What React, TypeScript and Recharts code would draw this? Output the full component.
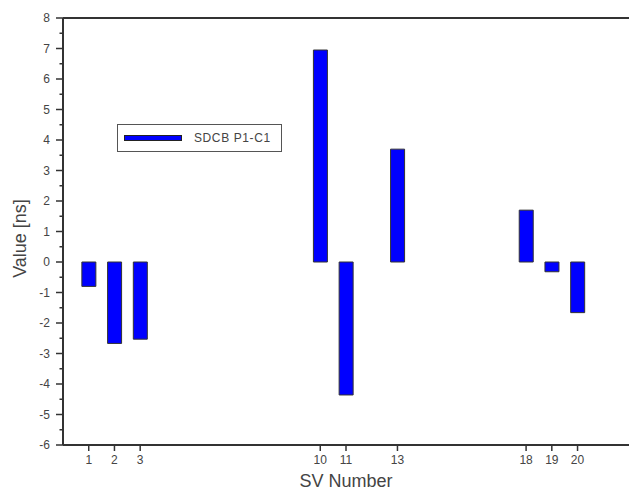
import { Bar, BarChart, Legend, ReferenceLine, XAxis, YAxis } from "recharts";

const SV_NUMBERS = [1, 2, 3, 10, 11, 13, 18, 19, 20];
const VALUES = [-0.8, -2.67, -2.53, 6.95, -4.36, 3.7, 1.7, -0.32, -1.66];
const SERIES_NAME = "SDCB P1-C1";
const X_TICKS = [1, 2, 3, 10, 11, 13, 18, 19, 20];
const Y_TICKS = Array.from({ length: 29 }, (_, i) => -6 + i * 0.5);

const data = SV_NUMBERS.map((sv, i) => ({ sv, value: VALUES[i] }));

const FONT = "'Liberation Sans', Arial, sans-serif";
const AXIS = "#333";
const TEXT = "#444";

function YTick(props: any) {
  const { x, y, payload } = props;
  const v = payload.value as number;
  const major = Number.isInteger(v);
  return (
    <g>
      <line x1={x - (major ? 7 : 3.5)} x2={x} y1={y} y2={y} stroke={AXIS} strokeWidth={1.5} />
      {major && (
        <text x={x - 13} y={y} dy="0.35em" textAnchor="end" fontSize={12} fill={TEXT} fontFamily={FONT}>
          {v}
        </text>
      )}
    </g>
  );
}

function YLabel(props: any) {
  const { viewBox } = props;
  const cy = viewBox.y + viewBox.height / 2 + 7;
  return (
    <text x={20} y={cy} transform={`rotate(-90 20 ${cy})`} textAnchor="middle" dy="0.35em" fontSize={18} fill={TEXT} fontFamily={FONT}>
      Value [ns]
    </text>
  );
}

function LegendBox() {
  return (
    <div
      style={{
        width: 165,
        height: 28,
        boxSizing: "border-box",
        border: "1px solid #555",
        background: "#fff",
        display: "flex",
        alignItems: "center",
        fontFamily: FONT,
      }}
    >
      <span style={{ display: "inline-block", width: 58, height: 6, boxSizing: "border-box", background: "#0000ff", border: "1px solid #222", marginLeft: 6 }} />
      <span style={{ marginLeft: 12, fontSize: 12, letterSpacing: 0.6, color: TEXT }}>{SERIES_NAME}</span>
    </div>
  );
}

export default function App() {
  return (
    <div style={{ position: "absolute", left: 0, top: 0, background: "#fff" }}>
      <BarChart width={629} height={490} data={data} margin={{ top: 18, right: 0, bottom: 0, left: 0 }}>
        <XAxis
          dataKey="sv"
          type="number"
          domain={[0, 22]}
          ticks={X_TICKS}
          allowDataOverflow
          height={45}
          tickSize={6}
          tickMargin={4}
          axisLine={{ stroke: AXIS, strokeWidth: 2 }}
          tickLine={{ stroke: AXIS, strokeWidth: 1.5 }}
          tick={{ fontSize: 12, fill: TEXT, fontFamily: FONT }}
          label={{ value: "SV Number", position: "insideBottom", offset: 3, fontSize: 18, fill: TEXT, fontFamily: FONT }}
        />
        <YAxis
          type="number"
          domain={[-6, 8]}
          ticks={Y_TICKS}
          interval={0}
          width={63}
          tickSize={0}
          tickMargin={0}
          tickLine={false}
          axisLine={{ stroke: AXIS, strokeWidth: 2 }}
          tick={<YTick />}
          label={<YLabel />}
        />
        <ReferenceLine y={8} stroke={AXIS} strokeWidth={2} />
        <Legend
          layout="horizontal"
          verticalAlign="middle"
          align="center"
          content={<LegendBox />}
          wrapperStyle={{ left: 117, top: 124, width: 165 }}
        />
        <Bar dataKey="value" name={SERIES_NAME} fill="#0000ff" stroke="#333" strokeWidth={1} barSize={14} isAnimationActive={false} />
      </BarChart>
    </div>
  );
}
